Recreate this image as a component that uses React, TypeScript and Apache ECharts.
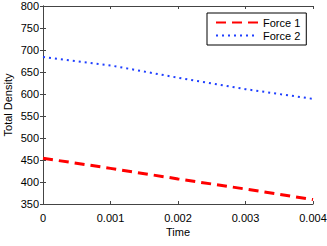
import React, { useEffect, useRef } from "react";
import * as echarts from "echarts";

const times = [0, 0.001, 0.002, 0.003, 0.004];
const force1 = [454, 431, 407, 384, 360];
const force2 = [684, 665, 637, 611, 589];
const seriesNames = ["Force 1", "Force 2"];
const xTickLabels = ["0", "0.001", "0.002", "0.003", "0.004"];

const FONT = "Liberation Sans, Arial, Helvetica, sans-serif";
const AXIS_COLOR = "#444";

export default function App() {
  const ref = useRef<HTMLDivElement>(null);
  useEffect(() => {
    if (!ref.current) return;
    const chart = echarts.init(ref.current, undefined, { renderer: "svg" });
    const tickStyle = { show: true, inside: true, length: 3, lineStyle: { color: AXIS_COLOR, width: 1 } };
    const axisLine = { show: true, lineStyle: { color: AXIS_COLOR, width: 1 } };
    chart.setOption({
      animation: false,
      backgroundColor: "#fff",
      grid: { left: 43, top: 6, right: 14, bottom: 42, containLabel: false, outerBoundsMode: "none" },
      legend: {
        left: 207,
        top: 13,
        orient: "vertical",
        padding: [4, 6, 4, 8],
        itemWidth: 42,
        itemHeight: 12,
        itemGap: 2,
        borderColor: "#000",
        borderWidth: 1,
        backgroundColor: "#fff",
        itemStyle: { opacity: 0, borderWidth: 0 },
        textStyle: { fontSize: 11, fontFamily: FONT, color: "#000" },
        data: seriesNames,
      },
      xAxis: [
        {
          type: "value",
          min: 0,
          max: 0.004,
          interval: 0.001,
          name: "Time",
          nameLocation: "middle",
          nameGap: 22,
          nameMoveOverlap: false,
          nameTextStyle: { fontSize: 11, fontFamily: FONT, color: "#000" },
          axisLine,
          axisTick: tickStyle,
          splitLine: { show: false },
          axisLabel: {
            fontSize: 11,
            fontFamily: FONT,
            color: "#000",
            margin: 8,
            formatter: (v: number) => xTickLabels[Math.round(v / 0.001)] ?? String(v),
          },
        },
        {
          type: "value",
          position: "top",
          min: 0,
          max: 0.004,
          interval: 0.001,
          axisLine,
          axisTick: tickStyle,
          splitLine: { show: false },
          axisLabel: { show: false },
        },
      ],
      yAxis: [
        {
          type: "value",
          min: 350,
          max: 800,
          interval: 50,
          name: "Total Density",
          nameLocation: "middle",
          nameGap: 30,
          nameMoveOverlap: false,
          nameTextStyle: { fontSize: 11, fontFamily: FONT, color: "#000" },
          axisLine,
          axisTick: tickStyle,
          splitLine: { show: false },
          axisLabel: { fontSize: 11, fontFamily: FONT, color: "#000", margin: 4 },
        },
        {
          type: "value",
          position: "right",
          min: 350,
          max: 800,
          interval: 50,
          axisLine,
          axisTick: tickStyle,
          splitLine: { show: false },
          axisLabel: { show: false },
        },
      ],
      series: [
        {
          name: seriesNames[0],
          type: "line",
          symbol: "none",
          data: times.map((t, i) => [t, force1[i]]),
          lineStyle: { color: "#ff0000", width: 3, type: [10, 6] },
          itemStyle: { color: "#ff0000" },
        },
        {
          name: seriesNames[1],
          type: "line",
          symbol: "none",
          data: times.map((t, i) => [t, force2[i]]),
          lineStyle: { color: "#1f3fff", width: 2, type: [2, 4] },
          itemStyle: { color: "#1f3fff" },
        },
      ],
    });
    return () => chart.dispose();
  }, []);
  return <div ref={ref} style={{ width: 327, height: 246, position: "absolute", left: 0, top: 0 }} />;
}
